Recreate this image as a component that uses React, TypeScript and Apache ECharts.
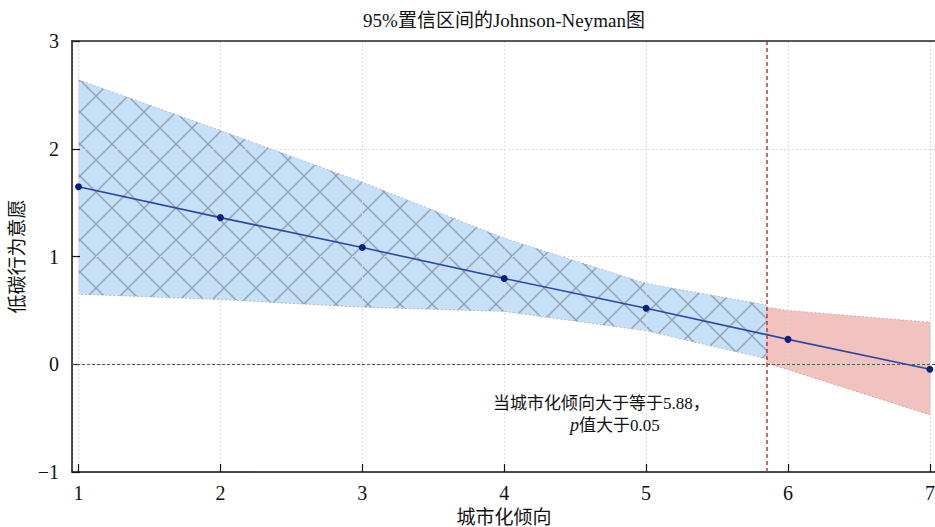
import React, { useEffect, useRef } from 'react';
import * as echarts from 'echarts';

// ---- data ----
const moderatorX = [1, 2, 3, 4, 5, 6, 7];
const effectEstimate = [1.648, 1.361, 1.083, 0.796, 0.519, 0.231, -0.046];

const sigX = [1, 2, 3, 4, 5, 5.85];
const sigUpper = [2.64, 2.17, 1.69, 1.17, 0.75, 0.55];
const sigLower = [0.65, 0.6, 0.53, 0.49, 0.31, 0.05];

const nsX = [5.85, 6, 7];
const nsUpper = [0.53, 0.5, 0.39];
const nsLower = [0.01, -0.05, -0.47];

const jnBoundary = 5.85;

const titleText = '95%置信区间的Johnson-Neyman图';
const xName = '城市化倾向';
const yName = '低碳行为意愿';
const noteLine1 = '当城市化倾向大于等于5.88，';
const noteLine2Rest = '值大于0.05';

const SERIF = "Liberation Serif, 'Noto Sans CJK SC', serif";

function makeHatch(): HTMLCanvasElement {
  const T = 32;
  const c = document.createElement('canvas');
  c.width = T;
  c.height = T;
  const ctx = c.getContext('2d')!;
  ctx.fillStyle = '#c6e0fa';
  ctx.fillRect(0, 0, T, T);
  ctx.strokeStyle = 'rgba(128,136,150,0.7)';
  ctx.lineWidth = 1.5;
  for (const k of [-1, 0, 1]) {
    ctx.beginPath();
    ctx.moveTo(k * T, 0);
    ctx.lineTo(k * T + T, T);
    ctx.stroke();
    ctx.beginPath();
    ctx.moveTo(k * T + T, 0);
    ctx.lineTo(k * T, T);
    ctx.stroke();
  }
  return c;
}

function bandRenderer(bx: number[], up: number[], lo: number[], fill: any) {
  return (_params: any, api: any) => {
    const pts: number[][] = [];
    for (let i = 0; i < bx.length; i++) pts.push(api.coord([bx[i], up[i]]));
    for (let i = bx.length - 1; i >= 0; i--) pts.push(api.coord([bx[i], lo[i]]));
    return {
      type: 'polygon',
      shape: { points: pts },
      style: {
        fill,
        stroke: 'rgba(150,150,150,0.7)',
        lineWidth: 0.8,
        lineDash: [2, 2],
      },
    };
  };
}

export default function App() {
  const ref = useRef<HTMLDivElement>(null);

  useEffect(() => {
    if (!ref.current) return;
    const chart = echarts.init(ref.current, null, { renderer: 'svg' });
    const hatch = makeHatch();

    const splitStyle = { show: true, lineStyle: { color: '#d9d9d9', type: [2, 2], width: 1 } };

    const option: any = {
      animation: false,
      backgroundColor: '#ffffff',
      grid: {
        left: 72,
        top: 41,
        width: 864,
        height: 431,
        containLabel: false,
        outerBoundsMode: 'none',
      },
      graphic: [
        {
          type: 'text',
          x: 504,
          y: 20,
          style: {
            text: titleText,
            align: 'center',
            verticalAlign: 'middle',
            fontFamily: SERIF,
            fontSize: 19,
            fill: '#111',
          },
        },
        {
          type: 'text',
          x: 493,
          y: 403,
          z: 10,
          style: {
            text: noteLine1,
            align: 'left',
            verticalAlign: 'middle',
            fontFamily: SERIF,
            fontSize: 17,
            fill: '#111',
          },
        },
        {
          type: 'text',
          x: 570,
          y: 425,
          z: 10,
          style: {
            text: '{p|p}{n|' + noteLine2Rest + '}',
            align: 'left',
            verticalAlign: 'middle',
            rich: {
              p: { fontFamily: SERIF, fontSize: 18, fontStyle: 'italic', fill: '#111' },
              n: { fontFamily: SERIF, fontSize: 17, fill: '#111' },
            },
          },
        },
      ],
      xAxis: [
        {
          type: 'value',
          min: 0.954,
          max: 7.043,
          splitNumber: 6,
          z: 2,
          name: xName,
          nameLocation: 'middle',
          nameGap: 36,
          nameTextStyle: { fontFamily: SERIF, fontSize: 19, color: '#111' },
          axisLine: { show: true, onZero: false, lineStyle: { color: '#111', width: 1.5 } },
          axisTick: { show: true, inside: true, length: 8, lineStyle: { color: '#111', width: 1.2 } },
          axisLabel: {
            showMinLabel: false,
            showMaxLabel: false,
            margin: 11,
            fontFamily: SERIF,
            fontSize: 20,
            color: '#111',
          },
          splitLine: splitStyle,
        },
        {
          type: 'value',
          position: 'top',
          min: 0.954,
          max: 7.043,
          z: 4,
          axisLine: { show: true, onZero: false, lineStyle: { color: '#222', width: 1.5 } },
          axisTick: { show: false },
          axisLabel: { show: false },
          splitLine: { show: false },
        },
      ],
      yAxis: {
        type: 'value',
        min: -1,
        max: 3,
        interval: 1,
        z: 2,
        name: yName,
        nameLocation: 'middle',
        nameGap: 29,
        nameTextStyle: { fontFamily: SERIF, fontSize: 19, color: '#111' },
        axisLine: { show: true, onZero: false, lineStyle: { color: '#111', width: 1.5 } },
        axisTick: { show: true, inside: true, length: 8, lineStyle: { color: '#111', width: 1.2 } },
        axisLabel: {
          margin: 13,
          fontFamily: SERIF,
          fontSize: 20,
          color: '#111',
          formatter: (v: number) => (v < 0 ? '\u2212' + Math.abs(v) : String(v)),
        },
        splitLine: splitStyle,
      },
      series: [
        {
          type: 'custom',
          z: 1,
          clip: true,
          silent: true,
          renderItem: bandRenderer(sigX, sigUpper, sigLower, { image: hatch, repeat: 'repeat' }),
          data: [[sigX[0], sigUpper[0]]],
        },
        {
          type: 'custom',
          z: 1,
          clip: true,
          silent: true,
          renderItem: bandRenderer(nsX, nsUpper, nsLower, '#f2c2be'),
          data: [[nsX[0], nsUpper[0]]],
        },
        {
          type: 'line',
          z: 3,
          data: moderatorX.map((x, i) => [x, effectEstimate[i]]),
          lineStyle: { color: '#2c48a2', width: 1.6 },
          itemStyle: { color: '#0b1f7d' },
          symbol: 'circle',
          symbolSize: 7,
          showSymbol: true,
          markLine: {
            silent: true,
            symbol: 'none',
            label: { show: false },
            data: [
              { yAxis: 0, lineStyle: { color: '#555', type: [3, 2], width: 1.1 } },
              { xAxis: jnBoundary, lineStyle: { color: '#c0392b', type: [4, 3], width: 1.5 } },
            ],
          },
        },
      ],
    };

    chart.setOption(option);
    return () => chart.dispose();
  }, []);

  return (
    <div
      ref={ref}
      style={{ position: 'absolute', left: 0, top: 0, width: 935, height: 527 }}
    />
  );
}
